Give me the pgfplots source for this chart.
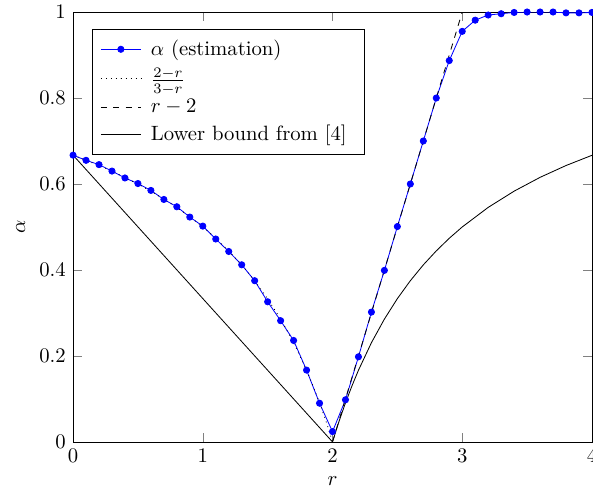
\documentclass[border=0pt]{standalone}
\usepackage{pgfplots}
\pgfplotsset{compat=1.18}

\begin{document}
\begin{tikzpicture}
\begin{axis}[
  scale only axis,
  width=250.7pt, height=207.7pt,
  xmin=0, xmax=4, ymin=0, ymax=1,
  xtick={0,1,2,3,4},
  ytick={0,0.2,0.4,0.6,0.8,1},
  xlabel={$r$}, ylabel={$\alpha$},
  legend cell align=left,
  legend image code/.code={%
    \draw[mark repeat=2,mark phase=2,#1]
      plot coordinates {(0cm,0cm) (0.34cm,0cm) (0.68cm,0cm)};},
  legend style={at={(0.036,0.96)},anchor=north west,
    row sep=0.8pt, inner xsep=4pt, inner ysep=3pt,
    nodes={inner xsep=4.6pt}},
]
% estimated alpha
\addplot[blue, mark=*, mark size=1.5pt] coordinates {
  (0.0,0.667) (0.1,0.655) (0.2,0.645) (0.3,0.630) (0.4,0.614)
  (0.5,0.601) (0.6,0.585) (0.7,0.564) (0.8,0.547) (0.9,0.523)
  (1.0,0.502) (1.1,0.472) (1.2,0.443) (1.3,0.412) (1.4,0.375)
  (1.5,0.326) (1.6,0.282) (1.7,0.236) (1.8,0.167) (1.9,0.090)
  (2.0,0.024) (2.1,0.098) (2.2,0.198) (2.3,0.302) (2.4,0.399)
  (2.5,0.501) (2.6,0.600) (2.7,0.700) (2.8,0.800) (2.9,0.887)
  (3.0,0.955) (3.1,0.981) (3.2,0.993) (3.3,0.996) (3.4,0.999)
  (3.5,1.000) (3.6,1.000) (3.7,1.000) (3.8,0.998) (3.9,0.998)
  (4.0,0.999)
};
\addlegendentry{$\alpha$ (estimation)}
% (2-r)/(3-r)
\addplot[black, dotted] coordinates {
  (0.0,0.667) (0.1,0.655) (0.2,0.643) (0.3,0.630) (0.4,0.615)
  (0.5,0.600) (0.6,0.583) (0.7,0.565) (0.8,0.545) (0.9,0.524)
  (1.0,0.500) (1.1,0.474) (1.2,0.444) (1.3,0.412) (1.4,0.375)
  (1.5,0.333) (1.6,0.286) (1.7,0.231) (1.8,0.167) (1.85,0.130)
  (1.9,0.091) (1.95,0.048) (2.0,0.000)
};
\addlegendentry{$\frac{2-r}{3-r}$}
% r-2
\addplot[black, dashed] coordinates {(2,0) (3,1)};
\addlegendentry{$r-2$}
% lower bound
\addplot[black] coordinates {
  (0,0.667) (2,0) (2.05,0.0476) (2.1,0.0909) (2.15,0.1304)
  (2.2,0.1667) (2.3,0.2308) (2.4,0.2857) (2.5,0.3333) (2.6,0.3750)
  (2.7,0.4118) (2.8,0.4444) (2.9,0.4737) (3.0,0.5000) (3.2,0.5455)
  (3.4,0.5833) (3.6,0.6154) (3.8,0.6429) (4.0,0.6667)
};
\addlegendentry{Lower bound from [4]}
\coordinate (sw) at (rel axis cs:0,0);
\coordinate (ne) at (rel axis cs:1,1);
\end{axis}
\pgfresetboundingbox
\path[use as bounding box] ([shift={(-35.3pt,-23.2pt)}]sw) rectangle ([shift={(0.5pt,5.8pt)}]ne);
\end{tikzpicture}
\end{document}
